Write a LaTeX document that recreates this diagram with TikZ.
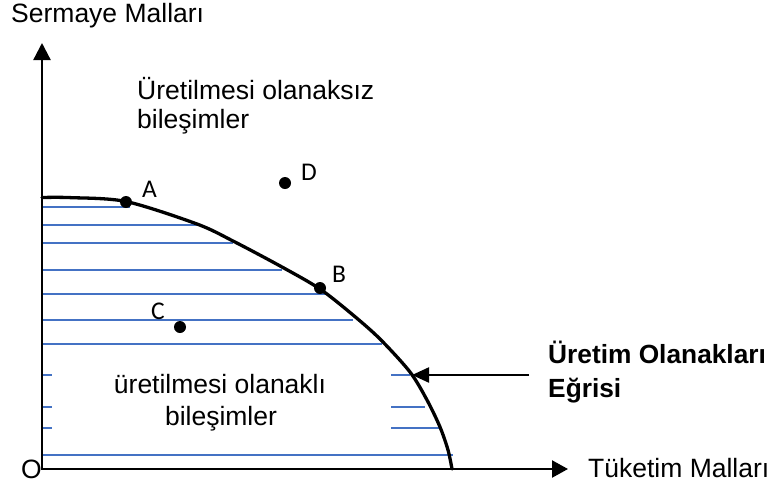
\documentclass[tikz,border=0pt]{standalone}
\usepackage{fontspec}
\setmainfont{Liberation Sans}
\newfontfamily\labfont{Carlito}
\usetikzlibrary{arrows.meta}
\definecolor{hatch}{HTML}{4472C4}
\tikzset{
  axisline/.style={line width=2.3pt,black},
  hatchline/.style={hatch,line width=1.1pt},
  pointdot/.style={circle,fill=black,inner sep=0pt,minimum size=12pt},
  ptlabel/.style={anchor=base west,inner sep=0pt,font=\labfont\fontsize{25.5}{30}\selectfont},
  txt/.style={inner sep=0pt,font=\fontsize{26.5}{31}\selectfont},
  boldtxt/.style={inner sep=0pt,font=\bfseries\fontsize{26.3}{31}\selectfont},
}
\begin{document}
\begin{tikzpicture}[x=1pt,y=-1pt]
\useasboundingbox (0,0) rectangle (773,488);
% hatch lines
\foreach \yy/\xx in {207/130,225/197,243/233,270/282,294/325,320/353,344/382,375/410,407/425,428/439,455/453}{
  \draw[hatchline] (42,\yy) -- (\xx,\yy);
}
% white box
\fill[white] (52,355) rectangle (391,446);
% curve
\draw[line width=3.3pt,line cap=round] plot[smooth,tension=0.5] coordinates {(42,197.5) (70,197.6) (126,201.5) (197,224) (233,241) (282,267) (320,289) (353,315) (380,339) (410,372) (427,400) (440,427) (448,450) (452,469)};
% axes
\coordinate (o) at (42,469);
\coordinate (ytip) at (42,43);
\coordinate (xtip) at (568,469);
\draw[axisline,{Triangle[length=17pt,width=17pt]}-{Triangle[length=16pt,width=17pt]}] (ytip) -- (o) -- (xtip);
% pointer arrow
\coordinate (arrstart) at (529,375);
\coordinate (arrtip) at (412,375);
\draw[axisline,-{Triangle[length=17pt,width=15pt]}] (arrstart) -- (arrtip);
% points
\node[pointdot] (A) at (126,202) {};
\node[pointdot] (B) at (320,288) {};
\node[pointdot] (C) at (180,327) {};
\node[pointdot] (D) at (285,183) {};
\node[ptlabel] (Alab) at (142,197) {A};
\node[ptlabel] (Blab) at (332,282) {B};
\node[ptlabel] (Clab) at (151,319) {C};
\node[ptlabel] (Dlab) at (301,180) {D};
% texts
\node[txt,anchor=base west] (ylab) at (11,22) {Sermaye Malları};
\node[txt,anchor=base west] (imp1) at (137,99) {Üretilmesi olanaksız};
\node[txt,anchor=base west] (imp2) at (137,128) {bileşimler};
\node[txt,anchor=base] (pos1) at (220,393) {üretilmesi olanaklı};
\node[txt,anchor=base] (pos2) at (221,425) {bileşimler};
\node[boldtxt,anchor=base west] (ppc1) at (548,363) {Üretim Olanakları};
\node[boldtxt,anchor=base west] (ppc2) at (548,397) {Eğrisi};
\node[txt,anchor=base west] (xlab) at (588,477) {Tüketim Malları};
\node[txt,anchor=base west] (olab) at (21,478) {O};
\end{tikzpicture}
\end{document}
